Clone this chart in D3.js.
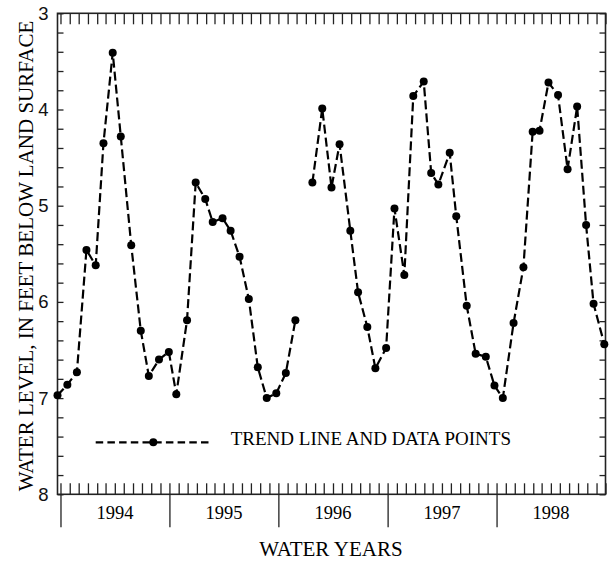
<!DOCTYPE html>
<html>
<head>
<meta charset="utf-8">
<script src="https://cdn.jsdelivr.net/npm/d3@7"></script>
<style>
  body { margin: 0; background: #fff; }
  svg { display: block; font-family: "Liberation Serif", "Times New Roman", serif; }
  .axis path, .axis line { stroke: #222; }
</style>
</head>
<body>
<svg id="chart"></svg>
<script>
// Monthly water-level measurements (feet below land surface); Dec 1995 missing
const sampleDates = [
  '1993-09-21', '1993-10-24', '1993-11-25', '1993-12-27', '1994-01-27', '1994-02-22',
  '1994-03-25', '1994-04-21', '1994-05-26', '1994-06-27', '1994-07-24', '1994-08-27',
  '1994-09-29', '1994-10-24', '1994-11-29', '1994-12-28', '1995-01-29', '1995-02-23',
  '1995-03-28', '1995-04-24', '1995-05-24', '1995-06-24', '1995-07-24', '1995-08-23',
  '1995-09-24', '1995-10-26', '1995-11-27', '1995-12-25', '1996-01-23', '1996-02-25',
  '1996-03-27', '1996-04-23', '1996-05-29', '1996-06-24', '1996-07-25', '1996-08-21',
  '1996-09-26', '1996-10-24', '1996-11-26', '1996-12-26', '1997-01-30', '1997-02-24',
  '1997-03-20', '1997-04-27', '1997-05-19', '1997-06-23', '1997-07-23', '1997-08-26',
  '1997-09-24', '1997-10-22', '1997-11-27', '1997-12-30', '1998-01-30', '1998-02-22',
  '1998-03-24', '1998-04-25', '1998-05-27', '1998-06-28', '1998-07-28', '1998-08-22',
  '1998-09-27'
];
const waterLevels = [
  6.97, 6.86, 6.73, 5.46, 5.62, 4.35,
  3.41, 4.28, 5.41, 6.30, 6.77, 6.60,
  6.52, 6.96, 6.19, 4.76, 4.93, 5.17,
  5.13, 5.26, 5.53, 5.97, 6.68, 7.00,
  6.95, 6.74, 6.19, null, 4.76, 3.99,
  4.81, 4.36, 5.26, 5.90, 6.26, 6.69,
  6.48, 5.03, 5.72, 3.86, 3.71, 4.66,
  4.78, 4.45, 5.11, 6.04, 6.54, 6.57,
  6.87, 7.00, 6.22, 5.64, 4.23, 4.22,
  3.72, 3.85, 4.62, 3.97, 5.20, 6.02,
  6.44
];
const waterYears = ['1994', '1995', '1996', '1997', '1998'];
const yTickValues = [3, 4, 5, 6, 7, 8];
const legendLabel = 'TREND LINE AND DATA POINTS';

const width = 610, height = 561;
const margin = {top: 13.3, right: 4.5, bottom: 66.7, left: 57.5};
const innerW = width - margin.left - margin.right;
const innerH = height - margin.top - margin.bottom;

const parse = d3.timeParse('%Y-%m-%d');
const data = sampleDates.map((d, i) => ({date: parse(d), level: waterLevels[i]}));

const svg = d3.select('#chart').attr('width', width).attr('height', height);
const g = svg.append('g').attr('transform', `translate(${margin.left},${margin.top})`);

// Scales
const x = d3.scaleTime()
    .domain([parse(sampleDates[0]), new Date(1998, 9, 1)])
    .range([0, innerW]);
const y = d3.scaleLinear().domain([3, 8]).range([0, innerH]);

const monthTicks = d3.timeMonth.range(new Date(1993, 9, 1), new Date(1998, 9, 2));
const yearStarts = waterYears.map(yr => new Date(+yr - 1, 9, 1));
const minorY = d3.range(3, 8.001, 0.2);

// Frame
g.append('rect')
    .attr('width', innerW).attr('height', innerH)
    .attr('fill', 'none').attr('stroke', '#222').attr('stroke-width', 1.6);

// Monthly ticks top and bottom (inward)
const monthAxisBottom = d3.axisBottom(x).tickValues(monthTicks).tickSize(-11).tickFormat('');
const monthAxisTop = d3.axisTop(x).tickValues(monthTicks).tickSize(-11).tickFormat('');
g.append('g').attr('class', 'axis').attr('transform', `translate(0,${innerH})`).call(monthAxisBottom);
g.append('g').attr('class', 'axis').call(monthAxisTop);

// Water-year boundaries below the plot
const yearAxis = d3.axisBottom(x).tickValues(yearStarts).tickSize(33).tickFormat('');
g.append('g').attr('class', 'axis').attr('transform', `translate(0,${innerH})`).call(yearAxis);

// Year labels centered in each water year
g.append('g').selectAll('text')
    .data(waterYears)
  .join('text')
    .attr('x', yr => (x(new Date(+yr - 1, 9, 1)) + x(new Date(+yr, 9, 1))) / 2)
    .attr('y', innerH + 24.7)
    .attr('text-anchor', 'middle')
    .attr('font-size', 18.5)
    .text(d => d);

// Y axis left with labels, right without
const yLeft = d3.axisLeft(y).tickValues(minorY).tickSize(-6)
    .tickFormat(d => yTickValues.some(v => Math.abs(v - d) < 1e-6) ? d3.format('d')(d) : '');
const yRight = d3.axisRight(y).tickValues(minorY).tickSize(-6).tickFormat('');
const yLeftG = g.append('g').attr('class', 'axis').call(yLeft);
g.append('g').attr('class', 'axis').attr('transform', `translate(${innerW},0)`).call(yRight);
yLeftG.selectAll('text').attr('font-size', 18.5).attr('font-family', null).attr('x', -9).attr('fill', '#111');

g.selectAll('.axis path.domain').remove();
g.selectAll('.axis line').attr('stroke-width', 1.3);

// Trend line and data points
const line = d3.line()
    .defined(d => d.level != null)
    .x(d => x(d.date))
    .y(d => y(d.level));

g.append('path')
    .datum(data)
    .attr('fill', 'none')
    .attr('stroke', '#000')
    .attr('stroke-width', 2.2)
    .attr('stroke-dasharray', '9,4')
    .attr('d', line);

g.append('g').selectAll('circle')
    .data(data.filter(d => d.level != null))
  .join('circle')
    .attr('cx', d => x(d.date))
    .attr('cy', d => y(d.level))
    .attr('r', 4)
    .attr('fill', '#000');

// Legend
const legend = svg.append('g').attr('transform', 'translate(95.7,442.3)');
legend.append('line')
    .attr('x1', 0).attr('x2', 115)
    .attr('stroke', '#000').attr('stroke-width', 2.2).attr('stroke-dasharray', '7.5,4.2');
legend.append('circle').attr('cx', 57.6).attr('r', 4).attr('fill', '#000');
legend.append('text')
    .attr('x', 135).attr('y', 3)
    .attr('font-size', 19)
    .text(legendLabel);

// Axis titles
svg.append('text')
    .attr('x', 331).attr('y', 555.7)
    .attr('text-anchor', 'middle')
    .attr('font-size', 21)
    .text('WATER YEARS');

svg.append('text')
    .attr('transform', 'translate(33,256) rotate(-90)')
    .attr('text-anchor', 'middle')
    .attr('font-size', 21)
    .text('WATER LEVEL, IN FEET BELOW LAND SURFACE');
</script>
</body>
</html>
